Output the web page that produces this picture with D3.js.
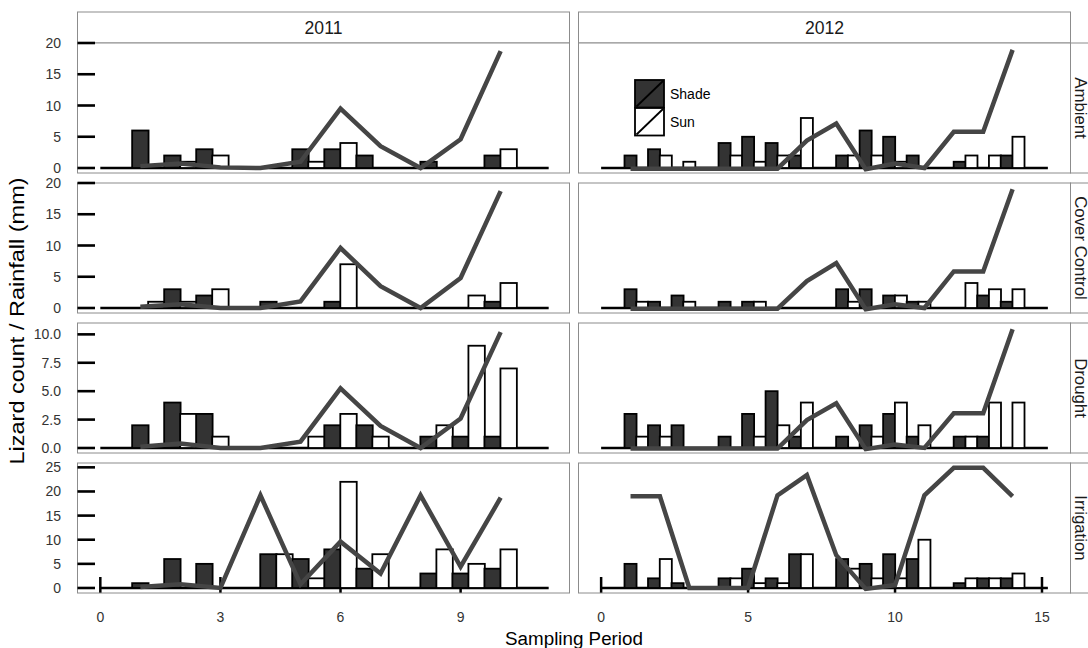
<!DOCTYPE html>
<html><head><meta charset="utf-8">
<script src="https://cdn.jsdelivr.net/npm/d3@7"></script>
<style>
body{margin:0;background:#fff}
svg{display:block}
text{font-family:"Liberation Sans",Arial,Helvetica,sans-serif}
</style>
</head><body><svg id="chart" width="1088" height="648"></svg>
<script>
// ---- data -------------------------------------------------------------
const years = ["2011", "2012"];
const treatments = ["Ambient", "Cover Control", "Drought", "Irrigation"];

// rainfall sampling periods and lizard survey numbers per year
const rainPeriods2011 = [1, 2, 3, 4, 5, 6, 7, 8, 9, 10];
const rainPeriods2012 = [1, 2, 3, 4, 5, 6, 7, 8, 9, 10, 11, 12, 13, 14];
const surveys2011 = [1, 2, 3, 4, 5, 6, 7, 8, 9, 10, 11, 12];
const surveys2012 = [1, 2, 3, 4, 5, 6, 7, 8, 9, 10, 11, 12, 13, 14, 15, 16, 17];

// lizard counts, shade and sun microhabitats
const shade2011Ambient    = [6, 2, 3, 0, 0, 3, 3, 2, 0, 1, 0, 2];
const sun2011Ambient      = [0, 1, 2, 0, 0, 1, 4, 0, 0, 0, 0, 3];
const shade2011Cover      = [0, 3, 2, 0, 1, 0, 1, 0, 0, 0, 0, 1];
const sun2011Cover        = [1, 1, 3, 0, 0, 0, 7, 0, 0, 0, 2, 4];
const shade2011Drought    = [2, 4, 3, 0, 0, 0, 2, 2, 0, 1, 1, 1];
const sun2011Drought      = [0, 3, 1, 0, 0, 1, 3, 1, 0, 2, 9, 7];
const shade2011Irrigation = [1, 6, 5, 0, 7, 6, 8, 4, 0, 3, 3, 4];
const sun2011Irrigation   = [0, 0, 0, 0, 7, 2, 22, 7, 0, 8, 5, 8];

const shade2012Ambient    = [2, 3, 0, 0, 4, 5, 4, 2, 0, 2, 6, 5, 2, 0, 1, 0, 2];
const sun2012Ambient      = [0, 2, 1, 0, 2, 1, 2, 8, 0, 2, 2, 1, 0, 0, 2, 2, 5];
const shade2012Cover      = [3, 1, 2, 0, 1, 1, 0, 0, 0, 3, 3, 2, 1, 0, 0, 2, 1];
const sun2012Cover        = [1, 0, 1, 0, 0, 1, 0, 0, 0, 1, 0, 2, 1, 0, 4, 3, 3];
const shade2012Drought    = [3, 2, 2, 0, 1, 3, 5, 1, 0, 1, 2, 3, 1, 0, 1, 1, 0];
const sun2012Drought      = [1, 1, 0, 0, 0, 1, 2, 4, 0, 0, 1, 4, 2, 0, 1, 4, 4];
const shade2012Irrigation = [5, 2, 1, 0, 2, 4, 2, 7, 0, 6, 5, 7, 6, 0, 1, 2, 2];
const sun2012Irrigation   = [0, 6, 0, 0, 2, 1, 1, 7, 0, 4, 2, 2, 10, 0, 2, 2, 3];

// rainfall (mm) per sampling period
const rain2011Ambient    = [0.3, 0.7, 0.1, 0, 1.0, 9.5, 3.5, 0, 4.6, 18.7];
const rain2011Cover      = [0.2, 0.6, 0, 0, 1.05, 9.6, 3.5, 0, 4.8, 18.7];
const rain2011Drought    = [0.1, 0.4, 0, 0, 0.56, 5.25, 1.94, 0, 2.6, 10.2];
const rain2011Irrigation = [0.2, 0.75, 0, 19.2, 0.75, 9.6, 3.0, 19.2, 4.4, 18.7];
const rain2012Ambient    = [-0.1, -0.1, -0.1, -0.1, -0.1, -0.1, 4.4, 7.1, -0.2, 0.7, 0, 5.8, 5.8, 18.9];
const rain2012Cover      = [-0.1, -0.1, -0.1, -0.1, -0.1, -0.1, 4.3, 7.2, -0.2, 0.6, 0, 5.85, 5.85, 19.0];
const rain2012Drought    = [-0.05, -0.05, -0.05, -0.05, -0.05, -0.05, 2.46, 3.93, -0.1, 0.3, 0, 3.05, 3.05, 10.44];
const rain2012Irrigation = [19, 19, 0, 0, 0, 19.2, 23.4, 6.8, -0.2, 0.6, 19.2, 24.9, 24.9, 19.0];

// tick labels
const yTicksAmbient    = [0, 5, 10, 15, 20];
const yTicksCover      = [0, 5, 10, 15, 20];
const yTicksDrought    = [0, 2.5, 5, 7.5, 10];
const yTicksIrrigation = [0, 5, 10, 15, 20, 25];
const xTicks2011 = [0, 3, 6, 9];
const xTicks2012 = [0, 5, 10, 15];

// ---- assemble panels ---------------------------------------------------
const counts = {
  "2011": {
    "Ambient": [shade2011Ambient, sun2011Ambient],
    "Cover Control": [shade2011Cover, sun2011Cover],
    "Drought": [shade2011Drought, sun2011Drought],
    "Irrigation": [shade2011Irrigation, sun2011Irrigation]
  },
  "2012": {
    "Ambient": [shade2012Ambient, sun2012Ambient],
    "Cover Control": [shade2012Cover, sun2012Cover],
    "Drought": [shade2012Drought, sun2012Drought],
    "Irrigation": [shade2012Irrigation, sun2012Irrigation]
  }
};
const rain = {
  "2011": {"Ambient": rain2011Ambient, "Cover Control": rain2011Cover, "Drought": rain2011Drought, "Irrigation": rain2011Irrigation},
  "2012": {"Ambient": rain2012Ambient, "Cover Control": rain2012Cover, "Drought": rain2012Drought, "Irrigation": rain2012Irrigation}
};
const surveys = {"2011": surveys2011, "2012": surveys2012};
const rainPeriods = {"2011": rainPeriods2011, "2012": rainPeriods2012};
const yTicks = {"Ambient": yTicksAmbient, "Cover Control": yTicksCover, "Drought": yTicksDrought, "Irrigation": yTicksIrrigation};
const xTicks = {"2011": xTicks2011, "2012": xTicks2012};

// ---- layout ------------------------------------------------------------
const W = 1088, H = 648;
const cols = {
  "2011": {x0: 77.5, x1: 569.5, domain: [-0.57, 11.72], baseEnd: 11.2},
  "2012": {x0: 578.5, x1: 1070.5, domain: [-0.77, 15.97], baseEnd: 15.2}
};
const rowTop = {"Ambient": 43, "Cover Control": 183, "Drought": 323, "Irrigation": 463};
const rowH = 130;
const rowDomain = {"Ambient": [-0.8, 20], "Cover Control": [-0.8, 20], "Drought": [-0.44, 11], "Irrigation": [-1.04, 25.9]};
const yFmt = {"Ambient": d3.format("d"), "Cover Control": d3.format("d"), "Drought": d3.format(".1f"), "Irrigation": d3.format("d")};
const stripTop = 12;

const DARK = "#333333", LINE = "#454545", BORDER = "#8c8c8c";
const barW = 0.41;
// survey n sits on the rainfall-period axis: shade at 0.8n+0.2, sun 0.4 to its right
const shadeX = n => 0.8 * n + 0.2;
const sunX = n => 0.8 * n + 0.6;

const svg = d3.select("#chart");
svg.append("rect").attr("width", W).attr("height", H).attr("fill", "#fff");

const xScales = {}, yScales = {};
years.forEach(yr => {
  const c = cols[yr];
  xScales[yr] = d3.scaleLinear().domain(c.domain).range([c.x0, c.x1]);
});
treatments.forEach(t => {
  yScales[t] = d3.scaleLinear().domain(rowDomain[t]).range([rowTop[t] + rowH, rowTop[t]]);
});

// top strips
years.forEach(yr => {
  const c = cols[yr];
  const g = svg.append("g");
  g.append("rect").attr("x", c.x0).attr("y", stripTop).attr("width", c.x1 - c.x0).attr("height", rowTop["Ambient"] - stripTop)
    .attr("fill", "#fff").attr("stroke", BORDER).attr("stroke-width", 1);
  g.append("text").attr("x", (c.x0 + c.x1) / 2).attr("y", (stripTop + rowTop["Ambient"]) / 2)
    .attr("text-anchor", "middle").attr("dominant-baseline", "central")
    .attr("font-size", 17.6).attr("fill", "#1a1a1a").text(yr);
});

// right strips (labels read top to bottom)
treatments.forEach(t => {
  const x0 = cols["2012"].x1;
  const g = svg.append("g");
  g.append("rect").attr("x", x0).attr("y", rowTop[t]).attr("width", 30).attr("height", rowH)
    .attr("fill", "#fff").attr("stroke", BORDER).attr("stroke-width", 1);
  g.append("text").attr("transform", `translate(${x0 + 4},${rowTop[t] + rowH / 2}) rotate(90)`)
    .attr("text-anchor", "middle")
    .attr("font-size", 16.8).attr("fill", "#1a1a1a").text(t);
});

// panels
years.forEach(yr => {
  const c = cols[yr];
  const x = xScales[yr];
  treatments.forEach(t => {
    const y = yScales[t];
    const top = rowTop[t];
    const g = svg.append("g");
    const clipId = `clip-${yr}-${t.replace(/\s/g, "")}`;
    g.append("clipPath").attr("id", clipId).append("rect")
      .attr("x", c.x0).attr("y", top).attr("width", c.x1 - c.x0).attr("height", rowH);
    g.append("rect").attr("x", c.x0).attr("y", top).attr("width", c.x1 - c.x0).attr("height", rowH).attr("fill", "#fff");

    const inner = g.append("g").attr("clip-path", `url(#${clipId})`);

    // x ticks on the bottom row, under the bars
    if (t === "Irrigation") {
      inner.selectAll("line.xt").data(xTicks[yr]).join("line").attr("class", "xt")
        .attr("x1", d => x(d)).attr("x2", d => x(d))
        .attr("y1", y(0) - 11).attr("y2", top + rowH)
        .attr("stroke", "#000").attr("stroke-width", 2.5);
    }

    // zero line
    inner.append("line").attr("x1", x(0)).attr("x2", x(c.baseEnd)).attr("y1", y(0)).attr("y2", y(0))
      .attr("stroke", "#000").attr("stroke-width", 2.6);

    // lizard count bars
    const [shade, sun] = counts[yr][t];
    const bars = [];
    surveys[yr].forEach((n, i) => {
      bars.push({x: shadeX(n), v: shade[i], fill: DARK});
      bars.push({x: sunX(n), v: sun[i], fill: "#fff"});
    });
    inner.selectAll("rect.bar").data(bars.filter(d => d.v > 0)).join("rect").attr("class", "bar")
      .attr("x", d => x(d.x - barW / 2)).attr("width", d => x(d.x + barW / 2) - x(d.x - barW / 2))
      .attr("y", d => y(d.v)).attr("height", d => y(0) - y(d.v))
      .attr("fill", d => d.fill).attr("stroke", "#000").attr("stroke-width", 1.8);

    // rainfall line
    const pts = rainPeriods[yr].map((p, i) => [p, rain[yr][t][i]]);
    inner.append("path").datum(pts)
      .attr("d", d3.line().x(d => x(d[0])).y(d => y(d[1])))
      .attr("fill", "none").attr("stroke", LINE).attr("stroke-width", 4.5)
      .attr("stroke-linejoin", "miter").attr("stroke-linecap", "butt");

    // panel border
    g.append("rect").attr("x", c.x0).attr("y", top).attr("width", c.x1 - c.x0).attr("height", rowH)
      .attr("fill", "none").attr("stroke", BORDER).attr("stroke-width", 1);

    // y axis ticks on the left column
    if (yr === "2011") {
      g.selectAll("line.yt").data(yTicks[t]).join("line").attr("class", "yt")
        .attr("x1", c.x0).attr("x2", c.x0 + 17.5)
        .attr("y1", d => y(d)).attr("y2", d => y(d))
        .attr("stroke", "#000").attr("stroke-width", 2.6);
      g.selectAll("text.yl").data(yTicks[t]).join("text").attr("class", "yl")
        .attr("x", 61).attr("y", d => y(d)).attr("text-anchor", "end").attr("dominant-baseline", "central")
        .attr("font-size", 14).attr("fill", "#333").text(d => yFmt[t](d));
    }
    // x tick labels under the bottom row
    if (t === "Irrigation") {
      g.selectAll("text.xl").data(xTicks[yr]).join("text").attr("class", "xl")
        .attr("x", d => x(d)).attr("y", 617).attr("text-anchor", "middle").attr("dominant-baseline", "central")
        .attr("font-size", 14).attr("fill", "#333").text(d => d);
    }
  });
});

// legend inside the Ambient 2012 panel
const legend = svg.append("g").attr("transform", "translate(635,80)");
const keys = [{label: "Shade", fill: DARK}, {label: "Sun", fill: "#fff"}];
keys.forEach((k, i) => {
  const gy = i * 28;
  legend.append("rect").attr("x", 0).attr("y", gy).attr("width", 29).attr("height", 27.5)
    .attr("fill", k.fill).attr("stroke", "#000").attr("stroke-width", 1.8);
  legend.append("line").attr("x1", 1.5).attr("y1", gy + 26.5).attr("x2", 28).attr("y2", gy + 1)
    .attr("stroke", "#000").attr("stroke-width", 1.8);
  legend.append("text").attr("x", 35).attr("y", gy + 14).attr("dominant-baseline", "central")
    .attr("font-size", 14).attr("fill", "#000").text(k.label);
});

// axis titles
svg.append("text").attr("x", 574).attr("y", 645).attr("text-anchor", "middle")
  .attr("font-size", 18.8).attr("fill", "#000").text("Sampling Period");
svg.append("text").attr("transform", "translate(24,321) rotate(-90)").attr("text-anchor", "middle")
  .attr("font-size", 21).attr("textLength", 287).attr("lengthAdjust", "spacingAndGlyphs")
  .attr("fill", "#000").text("Lizard count / Rainfall (mm)");
</script>
</body></html>
